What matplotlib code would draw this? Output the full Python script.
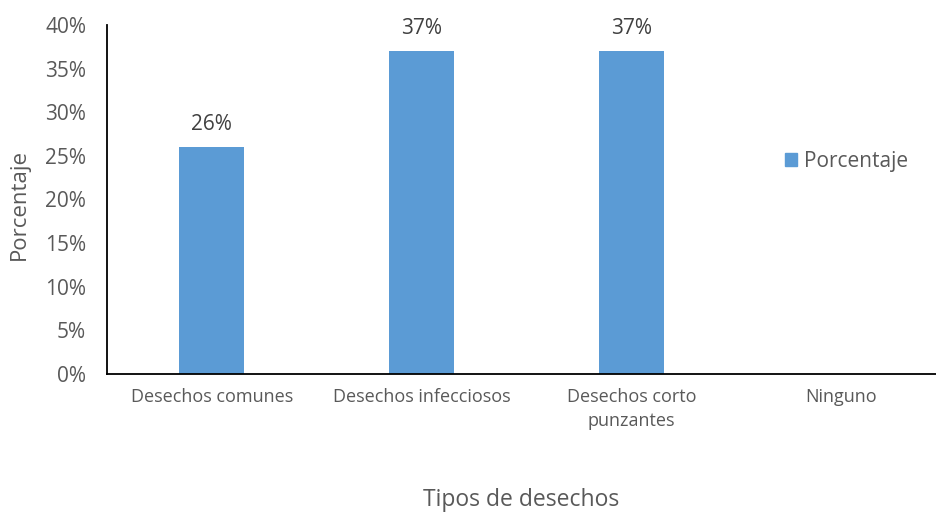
import matplotlib
matplotlib.use('Agg')
import matplotlib.pyplot as plt
from matplotlib.patches import Patch
from matplotlib.ticker import PercentFormatter

plt.rcParams['font.family'] = ['Open Sans', 'DejaVu Sans']

categorias = ['Desechos comunes', 'Desechos infecciosos', 'Desechos corto\npunzantes', 'Ninguno']
porcentaje = [26, 37, 37, 0]
etiquetas = ['26%', '37%', '37%', '']

gris = '#595959'
azul = '#5B9BD5'

fig = plt.figure(figsize=(9.36, 5.14), dpi=100)
ax = fig.add_axes([0.1143, 0.2724, 0.8857, 0.679])

x = list(range(len(categorias)))
ax.bar(x, porcentaje, width=0.31, color=azul, zorder=2)
for xi, v, t in zip(x, porcentaje, etiquetas):
    if t:
        ax.text(xi, v + 1.4, t, ha='center', va='bottom', fontsize=15, color='#404040')

ax.set_xlim(-0.5, 3.45)
ax.set_ylim(0, 40)
ax.set_yticks(range(0, 41, 5))
ax.yaxis.set_major_formatter(PercentFormatter(decimals=0))
ax.set_xticks(x)
ax.set_xticklabels(categorias, fontsize=13, color=gris, linespacing=1.45)
ax.tick_params(axis='y', labelsize=15, labelcolor=gris, length=0, pad=15)
ax.tick_params(axis='x', length=0, pad=10)

for s in ['top', 'right']:
    ax.spines[s].set_visible(False)
ax.spines['left'].set_color('black')
ax.spines['bottom'].set_color('black')
ax.spines['left'].set_linewidth(1.3)
ax.spines['bottom'].set_linewidth(1.3)

fig.text(0.021, 0.603, 'Porcentaje', rotation=90, ha='center', va='center', fontsize=16, color=gris)
fig.text(0.557, 0.027, 'Tipos de desechos', ha='center', va='center', fontsize=16.5, color=gris)

ax.legend(handles=[Patch(color=azul, label='Porcentaje')], loc='center left',
          bbox_to_anchor=(0.795, 0.61), frameon=False, fontsize=15,
          handlelength=0.6, handleheight=0.6, handletextpad=0.3, labelcolor=gris)

fig.savefig('out.png', dpi=100)
